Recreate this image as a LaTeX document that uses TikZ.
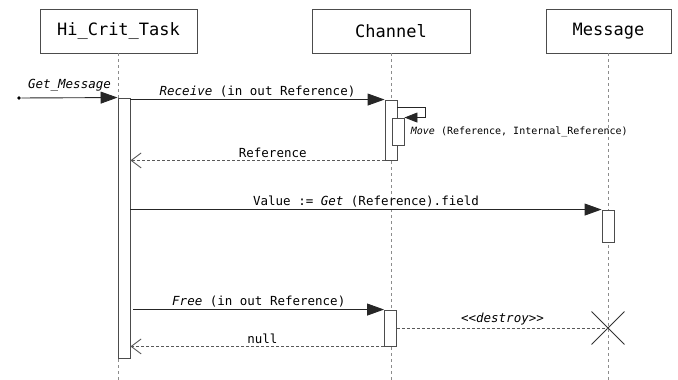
\documentclass[tikz,border=0pt]{standalone}
\usepackage{fontspec}
\setmonofont{DejaVu Sans Mono}
\usetikzlibrary{arrows.meta,shapes.misc}

\tikzset{
  head/.style={draw=black!70,fill=white,minimum width=#1,minimum height=44pt,
    font=\ttfamily\fontsize{17}{19}\selectfont,inner sep=0pt},
  act/.style={draw=black!70,fill=white,minimum width=12pt,inner sep=0pt},
  life/.style={draw=black!45,dash pattern=on 3pt off 3pt},
  call/.style={draw=black!85,-{Triangle[length=17pt,width=12pt]}},
  back/.style={draw=black!65,dash pattern=on 3pt off 2pt,
    -{Straight Barb[length=10pt,width=15pt]}},
  msg/.style={font=\ttfamily\fontsize{12.5}{14}\selectfont,inner sep=2pt}
}

\begin{document}
\begin{tikzpicture}[x=1pt,y=-1pt,line width=0.9pt]
\useasboundingbox (0,0) rectangle (678,380);

\node[head=157pt] (task) at (118.5,31) {Hi\_Crit\_Task};
\node[head=158pt] (chan) at (391,31) {Channel};
\node[head=125pt] (mesg) at (608.5,31) {Message};

\foreach \h in {task,chan,mesg} \draw[life] (\h.south) -- (\h.south |- 0,380);

\node[act,minimum height=260pt] (taskAct) at (124,228) {};
\node[act,minimum height=60pt] (chanAct) at (391,130) {};
\node[act,minimum height=27pt] (moveAct) at (398,131.5) {};
\node[act,minimum height=32pt] (mesgAct) at (608,226) {};
\node[act,minimum height=36pt] (chanAct2) at (390.5,328) {};

\node[circle,fill=black,inner sep=1.4pt] (start) at (19,98) {};
\node[draw=black!80,cross out,minimum size=32pt,inner sep=0pt]
  (kill) at (608,328) {};

\draw[call] (start) -- (taskAct.north west)
  node[msg,midway,above=4pt] {\itshape Get\_Message};

\draw[call] (taskAct.east |- chanAct.north) -- (chanAct.north west)
  node[msg,midway,above] {{\itshape Receive} (in out Reference)};

\draw[draw=black!85,-{Triangle[length=13pt,width=10pt]}]
  (chanAct.east |- 0,107) -- ++(28,0) |- (moveAct.north east);
\node[right,inner sep=6pt,font=\ttfamily\fontsize{10}{12}\selectfont]
  (move) at (moveAct.east) {{\itshape Move} (Reference, Internal\_Reference)};

\draw[back] (chanAct.south west) -- (taskAct.east |- chanAct.south)
  node[msg,pos=0.44,above] {Reference};

\draw[call] (taskAct.east |- mesgAct.north) -- (mesgAct.north west)
  node[msg,midway,above] {Value := {\itshape Get} (Reference).field};

\draw[call] ([xshift=3pt]taskAct.east |- chanAct2.north) -- (chanAct2.north west)
  node[msg,midway,above] {{\itshape Free} (in out Reference)};

\draw[draw=black!65,dash pattern=on 3pt off 2pt] (chanAct2.east) -- (kill.center)
  node[msg,midway,above] {\itshape <{}<destroy>{}>};

\draw[back] (chanAct2.south west) -- (taskAct.east |- chanAct2.south)
  node[msg,pos=0.48,above] {null};

\end{tikzpicture}
\end{document}
